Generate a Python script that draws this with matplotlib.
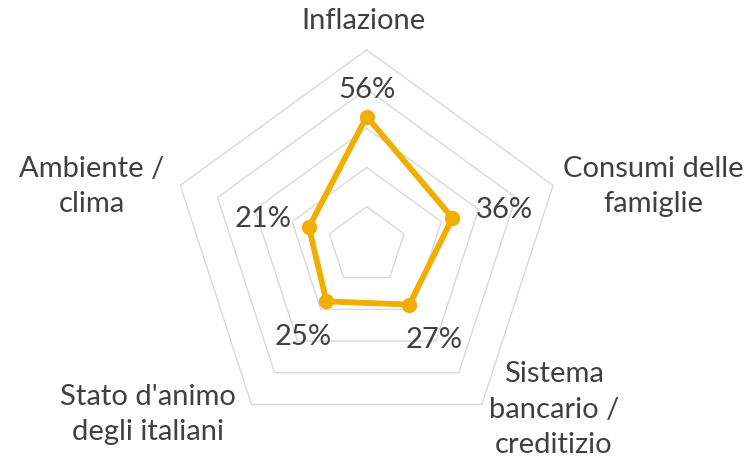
import numpy as np
import matplotlib

matplotlib.use("Agg")
import matplotlib.pyplot as plt

# data
categories = [
    "Inflazione",
    "Consumi delle\nfamiglie",
    "Sistema\nbancario /\ncreditizio",
    "Stato d'animo\ndegli italiani",
    "Ambiente /\nclima",
]
values = [56, 36, 27, 25, 21]
ring_levels = [10, 30, 50, 70, 90]
r_min, r_max = -10, 90

# style
LINE_COLOR = "#EFAE00"
GRID_COLOR = "#D9D9D9"
TEXT_COLOR = "#404040"
FONT = "Lato"
W, H = 751, 465

# label anchors in pixels (x center, last-line baseline from top)
cat_pos = [(364, 29), (653, 212), (554, 453), (148, 440), (92, 212)]
val_pos = [(367, 98), (504, 218), (434, 348), (303, 345), (263, 227)]

plt.rcParams["font.family"] = [FONT, "DejaVu Sans"]

fig = plt.figure(figsize=(W / 100, H / 100), dpi=100)
cx, cy, rad = 366.7, 245.9, 196.0
ax = fig.add_axes(
    [(cx - rad) / W, (H - cy - rad) / H, 2 * rad / W, 2 * rad / H],
    projection="polar",
)
ax.set_theta_offset(np.pi / 2)
ax.set_theta_direction(-1)
ax.set_ylim(r_min, r_max)
ax.set_facecolor("none")
ax.grid(False)
ax.set_xticks([])
ax.set_yticks([])
ax.spines["polar"].set_visible(False)

n = len(categories)
theta = np.linspace(0, 2 * np.pi, n, endpoint=False)
theta_closed = np.append(theta, theta[0])

for lvl in ring_levels:
    ax.plot(theta_closed, [lvl] * (n + 1), color=GRID_COLOR, lw=1.0,
            clip_on=False, zorder=1)

vals_closed = values + values[:1]
ax.plot(theta_closed, vals_closed, color=LINE_COLOR, lw=4.2, zorder=3,
        solid_joinstyle="round")
ax.plot(theta, values, "o", color=LINE_COLOR, ms=10, zorder=4)

for label, (px, py) in zip(categories, cat_pos):
    fig.text(px / W, 1 - py / H, label, ha="center", va="baseline",
             multialignment="center", fontsize=21, color=TEXT_COLOR,
             linespacing=1.45)

for v, (px, py) in zip(values, val_pos):
    fig.text(px / W, 1 - py / H, f"{v}%", ha="center", va="baseline",
             fontsize=21, color=TEXT_COLOR)

fig.savefig("out.png", dpi=100, facecolor="white")
